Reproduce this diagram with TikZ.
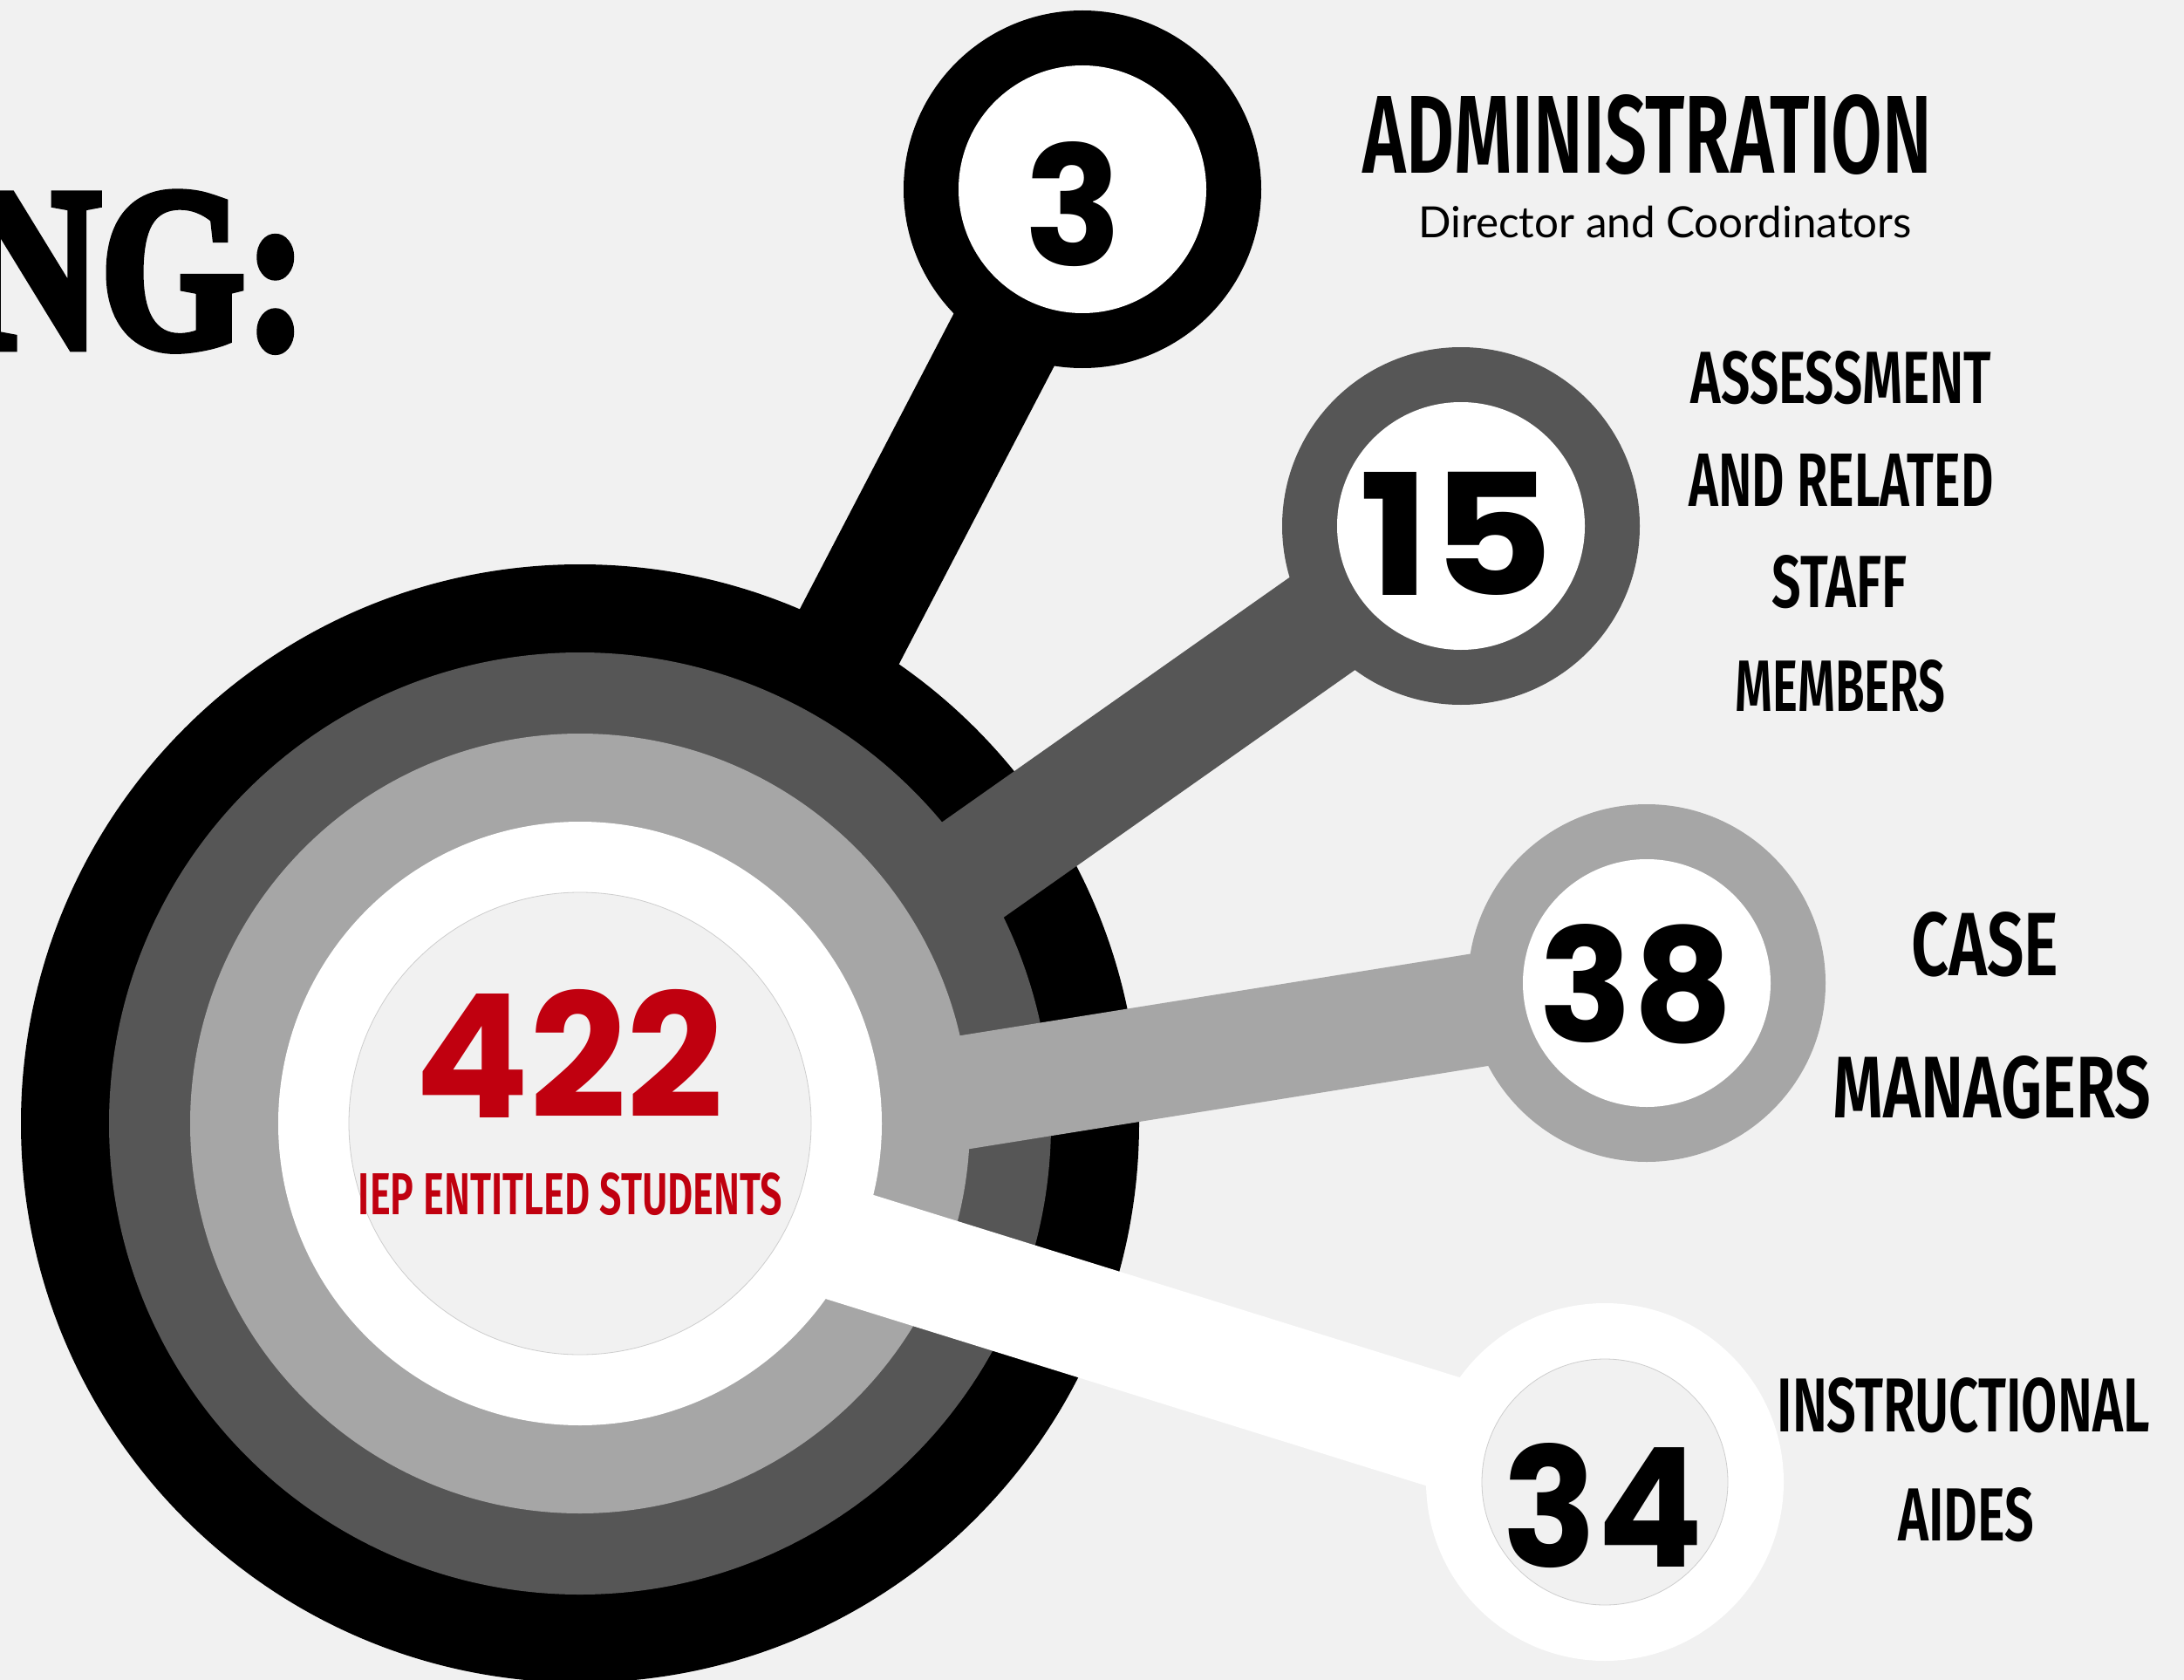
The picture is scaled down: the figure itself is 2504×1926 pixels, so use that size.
\documentclass[tikz,border=0pt]{standalone}
\usepackage{fontspec}
\usepackage{graphicx}
\newfontfamily\numfont{Poppins}
\newfontfamily\labfont{Fira Sans SemiBold}
\newfontfamily\subfont{Lato}
\newfontfamily\headfont{Liberation Serif}[BoldFeatures={FakeBold=4}]
\definecolor{bg}{RGB}{241,241,241}
\definecolor{ringblack}{RGB}{0,0,0}
\definecolor{ringdark}{RGB}{86,86,86}
\definecolor{ringlight}{RGB}{166,166,166}
\definecolor{ringwhite}{RGB}{255,255,255}
\definecolor{iepred}{RGB}{192,0,15}
\definecolor{faint}{RGB}{205,205,205}
\tikzset{
  disk/.style={circle, inner sep=0pt, minimum size=#1},
  bar/.style={line width=130pt, line cap=butt},
  txt/.style={inner sep=0pt, outer sep=0pt},
}
\newcommand{\lab}[3]{\resizebox{#1pt}{#2pt}{\labfont #3}}
\newcommand{\num}[3]{\resizebox{#1pt}{#2pt}{\numfont\bfseries #3}}
\begin{document}
\begin{tikzpicture}[x=1pt,y=-1pt]
\useasboundingbox (0,0) rectangle (2504,1926);
\clip (0,0) rectangle (2504,1926);
\fill[bg] (0,0) rectangle (2504,1926);

% heading fragment
\node[txt, anchor=base east] (head) at (352,398) {\resizebox{390pt}{176pt}{\headfont\bfseries NG:}};

% positions
\coordinate (hubpos) at (665,1288);
\coordinate (p3) at (1241,217);
\coordinate (p15) at (1675,603);
\coordinate (p38) at (1888,1127);
\coordinate (p34) at (1840,1699);
\coordinate (b3) at (683,1288);
\coordinate (b15) at (664,1315);
\coordinate (b38) at (664,1323);
\coordinate (b34) at (664,1333);

% black layer
\node[disk=1282pt, fill=ringblack] (rblack) at (hubpos) {};
\draw[bar, ringblack] (b3) -- (p3);
\node[disk=410pt, fill=ringblack] (s3) at (p3) {};

% dark layer
\node[disk=1080pt, fill=ringdark] (rdark) at (hubpos) {};
\draw[bar, ringdark] (b15) -- (p15);
\node[disk=410pt, fill=ringdark] (s15) at (p15) {};

% light layer
\node[disk=894pt, fill=ringlight] (rlight) at (hubpos) {};
\draw[bar, ringlight] (b38) -- (p38);
\node[disk=410pt, fill=ringlight] (s38) at (p38) {};

% white layer
\node[disk=692pt, fill=ringwhite] (rwhite) at (hubpos) {};
\draw[bar, ringwhite] (b34) -- (p34);
\node[disk=410pt, fill=ringwhite] (s34) at (p34) {};

% inner circles
\node[disk=530pt, fill=bg, draw=faint, line width=0.8pt] (hub) at (hubpos) {};
\node[disk=284pt, fill=white] (i3) at (p3) {};
\node[disk=284pt, fill=white] (i15) at (p15) {};
\node[disk=284pt, fill=white] (i38) at (p38) {};
\node[disk=282pt, fill=bg, draw=faint, line width=0.8pt] (i34) at (p34) {};

% numbers
\node[txt] (n3) at (1231,234) {\num{112}{142}{3}};
\node[txt] (n15) at (1670,612) {\num{222}{141}{15}};
\node[txt] (n38) at (1876,1128) {\num{222}{135}{38}};
\node[txt] (n34) at (1838,1726) {\num{230}{142}{34}};
\node[txt, text=iepred] (n422) at (653,1208) {\num{354}{147}{422}};
\node[txt, text=iepred] (iep) at (654,1369) {\lab{486}{48}{IEP ENTITLED STUDENTS}};

% labels
\node[txt] (admin) at (1889,155) {\lab{652}{90}{ADMINISTRATION}};
\node[txt, anchor=base] (dir) at (1909,273) {\resizebox{565pt}{!}{\subfont Director and Coordinators}};

\node[txt] (as1) at (2111,433) {\lab{344}{60}{ASSESSMENT}};
\node[txt] (as2) at (2111,550) {\lab{349}{60}{AND RELATED}};
\node[txt] (as3) at (2109,667) {\lab{154}{60}{STAFF}};
\node[txt] (as4) at (2110,787) {\lab{241}{59}{MEMBERS}};

\node[txt] (cm1) at (2276,1083) {\lab{169}{73}{CASE}};
\node[txt] (cm2) at (2284,1247) {\lab{365}{71}{MANAGERS}};

\node[txt] (ia1) at (2251,1611) {\lab{427}{62}{INSTRUCTIONAL}};
\node[txt] (ia2) at (2254,1737) {\lab{156}{61}{AIDES}};
\end{tikzpicture}
\end{document}
